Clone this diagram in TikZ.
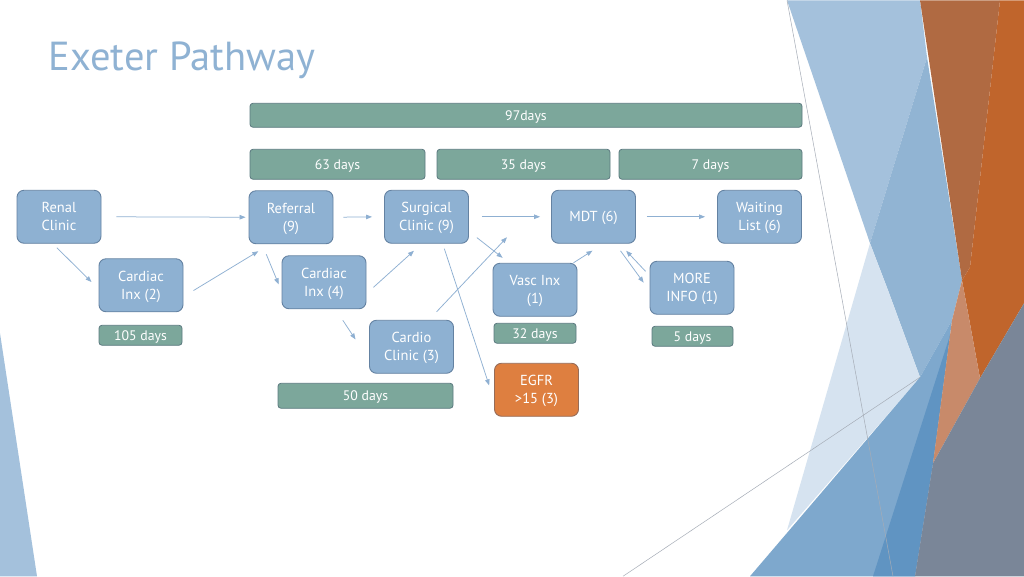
\documentclass[tikz,border=0pt]{standalone}
\usepackage{fontspec}
\setmainfont{PT Sans}
\usetikzlibrary{arrows.meta}

\begin{document}
\begin{tikzpicture}[
  x=1pt, y=-1pt,
  >={Triangle[length=6pt,width=4.5pt]},
  stage/.style={draw=stageedge, fill=stagefill, line width=.9pt,
    rounded corners=7pt, minimum width=84pt, minimum height=53pt,
    inner sep=0pt, align=center, text=white, text depth=0pt,
    font=\fontsize{14.5}{18}\selectfont},
  bar/.style={draw=baredge, fill=barfill, line width=.8pt,
    rounded corners=3pt, minimum height=20pt, inner sep=0pt, text=white,
    text depth=0pt, font=\fontsize{13.8}{15}\selectfont},
  link/.style={->, draw=linkblue, line width=.75pt},
  heading/.style={text=titleblue, font=\fontsize{40.5}{44}\selectfont}
]

\definecolor{titleblue}{RGB}{143,178,211}
\definecolor{stagefill}{RGB}{142,177,210}
\definecolor{stageedge}{RGB}{100,130,162}
\definecolor{barfill}{RGB}{124,167,155}
\definecolor{baredge}{RGB}{92,122,128}
\definecolor{eggfill}{RGB}{222,127,64}
\definecolor{eggedge}{RGB}{150,108,88}
\definecolor{linkblue}{RGB}{143,176,210}
\definecolor{facetlight}{RGB}{164,193,220}
\definecolor{facetmid}{RGB}{145,180,211}
\definecolor{facetpale}{RGB}{214,227,240}
\definecolor{facetdeep}{RGB}{126,168,205}
\definecolor{facetdark}{RGB}{96,148,194}
\definecolor{rustdark}{RGB}{176,106,66}
\definecolor{rust}{RGB}{192,101,44}
\definecolor{salmon}{RGB}{200,138,106}
\definecolor{slate}{RGB}{122,134,152}
\definecolor{hairline}{RGB}{165,172,182}

\fill[white] (0,0) rectangle (1024,576);

% slide facets
\fill[facetlight] (0,333) -- (37,576) -- (0,576) -- cycle;
\fill[facetlight] (787,0) -- (920,0) -- (927,57) -- (870,243) -- cycle;
\fill[facetmid] (927,57) -- (962,280) -- (952,320) -- (920,377)
  -- (888,290) -- (870,243) -- cycle;
\fill[facetpale] (870,243) -- (888,290) -- (920,377) -- (787,530) -- cycle;
\fill[facetdeep] (920,377) -- (952,320) -- (933,463) -- (915,576)
  -- (750,576) -- cycle;
\fill[facetdark] (950,335) -- (933,463) -- (915,576) -- (873,576) -- cycle;
\fill[rustdark] (920,0) -- (1000,0) -- (970,267) -- (962,280) -- cycle;
\fill[rust] (1000,0) -- (1024,0) -- (1024,303) -- (980,378)
  -- (962,280) -- (970,267) -- cycle;
\fill[salmon] (962,280) -- (980,378) -- (933,463) -- (952,320) -- cycle;
\fill[slate] (1024,303) -- (980,378) -- (933,463) -- (915,576)
  -- (1024,576) -- cycle;
\draw[hairline,line width=.5pt] (787,0) -- (893,576);
\draw[hairline,line width=.5pt] (623,576) -- (920,377);

\node[heading,anchor=base west] (title) at (45,70) {Exeter Pathway};

% duration bars
\node[bar,minimum width=552pt,minimum height=24pt] (d97) at (526,115) {97days};
\node[bar,minimum width=175pt,minimum height=30pt] (d63) at (337.5,164) {63 days};
\node[bar,minimum width=173pt,minimum height=30pt] (d35) at (523.5,164) {35 days};
\node[bar,minimum width=183pt,minimum height=30pt] (d7) at (710.5,164) {7 days};
\node[bar,minimum width=83pt] (d105) at (140.5,335) {105 days};
\node[bar,minimum width=82pt] (d32) at (535,333) {32 days};
\node[bar,minimum width=81pt] (d5) at (692.5,336) {5 days};
\node[bar,minimum width=175pt,minimum height=25pt] (d50) at (365.5,395.5) {50 days};

% pathway stages
\node[stage] (renal) at (59,216.5) {Renal\\Clinic};
\node[stage] (referral) at (291,217) {Referral\\(9)};
\node[stage] (surgical) at (426.5,216.5) {Surgical\\Clinic (9)};
\node[stage] (mdt) at (593.5,216.5) {MDT (6)};
\node[stage] (waiting) at (759.5,216.5) {Waiting\\List (6)};
\node[stage] (cardiac2) at (141,285) {Cardiac\\Inx (2)};
\node[stage] (cardiac4) at (324,282) {Cardiac\\Inx (4)};
\node[stage] (vasc) at (535,289.5) {Vasc Inx\\(1)};
\node[stage] (moreinfo) at (692,287.5) {MORE\\INFO (1)};
\node[stage] (cardio) at (411.5,346.5) {Cardio\\Clinic (3)};
\node[stage,fill=eggfill,draw=eggedge] (egfr) at (536.5,389.5) {EGFR\\>15 (3)};

\coordinate (cardiotip) at (507,237);

% connectors
\draw[link,shorten <=15pt,shorten >=3pt] (renal.east) -- (referral.west);
\draw[link,shorten <=5.7pt,shorten >=9.9pt] (renal.-103) -- (cardiac2.-175);
\draw[link,shorten <=11.7pt,shorten >=13.6pt] (cardiac2.-15) -- (referral.-128);
\draw[link,shorten <=10.9pt,shorten >=7.5pt] (referral.-137) -- (cardiac4.-168);
\draw[link,shorten <=10pt,shorten >=12pt] (referral.east) -- (surgical.west);
\draw[link,shorten <=9.4pt,shorten >=10.5pt] (cardiac4.-15) -- (surgical.-100);
\draw[link,shorten <=13.3pt,shorten >=24.4pt] (cardiac4.-67) -- (cardio.-163);
\draw[link,shorten <=13pt,shorten >=11pt] (surgical.east) -- (mdt.west);
\draw[link,shorten <=10.1pt,shorten >=8.1pt] (surgical.-19) -- (vasc.134);
\draw[link,shorten <=5.3pt,shorten >=15.7pt] (surgical.-59) -- (egfr.-166);
\draw[link,shorten <=11pt] (cardio.57.5) -- (cardiotip);
\draw[link,shorten >=12.9pt] (vasc.35.6) -- (mdt.-70.7);
\draw[link,shorten <=8.8pt,shorten >=10pt] (mdt.-51.3) -- (moreinfo.-176.6);
\draw[link,shorten <=5.8pt,shorten >=9.7pt] (moreinfo.164.9) -- (mdt.-46.9);
\draw[link,shorten <=11pt,shorten >=12pt] (mdt.east) -- (waiting.west);

\end{tikzpicture}
\end{document}
